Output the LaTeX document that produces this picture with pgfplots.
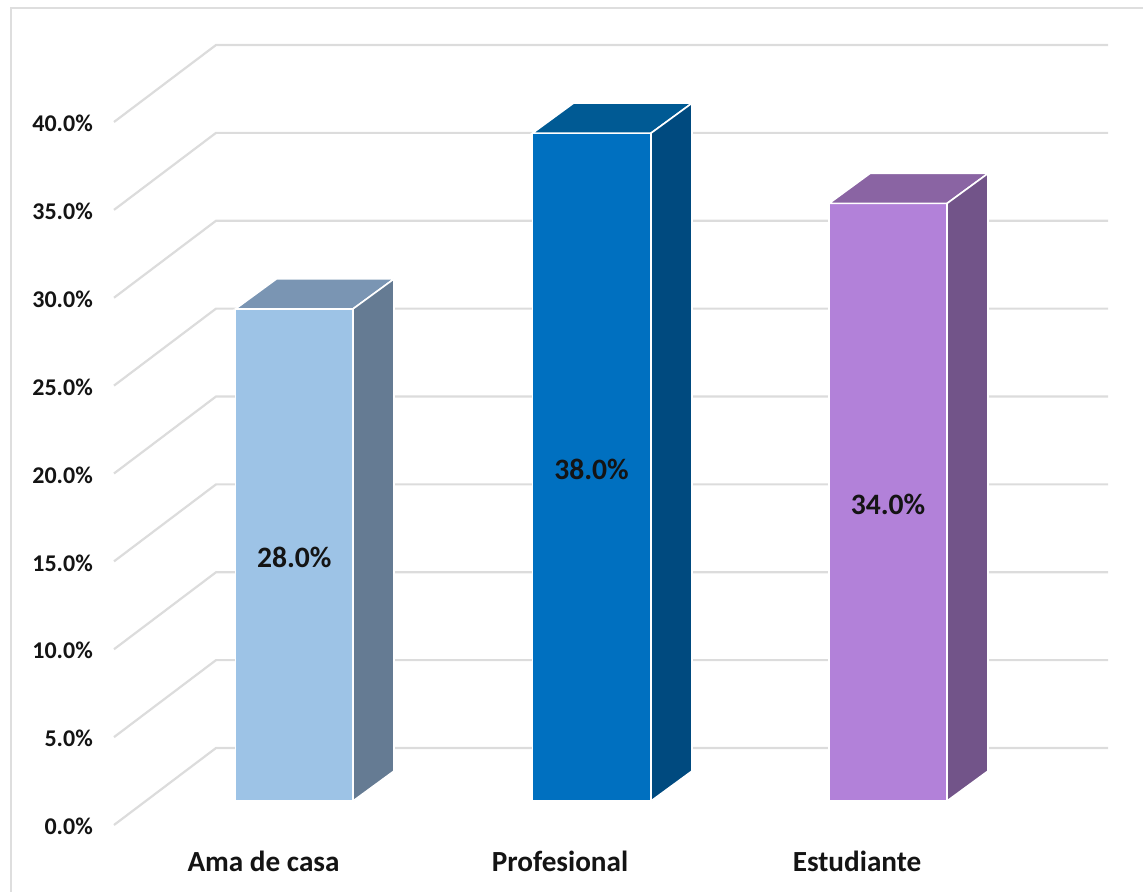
\documentclass[border=0pt]{standalone}
\usepackage{fontspec}
\setmainfont{Carlito}
\usepackage{pgfplots}
\usepackage{pgfplotstable}
\pgfplotsset{compat=1.18}

\definecolor{gridgray}{HTML}{DCDCDC}
\definecolor{framegray}{HTML}{DEDEDE}
\definecolor{skyfront}{HTML}{9DC3E6}
\definecolor{skytop}{HTML}{7A95B3}
\definecolor{skyside}{HTML}{657B93}
\definecolor{bluefront}{HTML}{0070C0}
\definecolor{bluetop}{HTML}{005A94}
\definecolor{blueside}{HTML}{004A7F}
\definecolor{violetfront}{HTML}{B281D9}
\definecolor{violettop}{HTML}{8A64A3}
\definecolor{violetside}{HTML}{725489}

% x in layout units, y in percent; label height is half the bar on the bar plane
\pgfplotstableread{
x      half    v
294.25 15.25   28
591.50 20.25   38
888.00 18.25   34
}\barlabels

\tikzset{barface/.style={draw=white,line width=1.6pt,line join=miter}}

\begin{document}
\begin{tikzpicture}
\begin{axis}[
  at={(114pt,67pt)}, anchor=south west,
  scale only axis, width=994pt, height=703pt,
  xmin=114, xmax=1108, ymin=0, ymax=40,
  clip=false,
  axis x line*=bottom, axis y line*=left,
  axis line style={draw=none},
  major tick length=0pt,
  ytick={0,5,...,40},
  yticklabel={\pgfmathprintnumber[fixed,fixed zerofill,precision=1,assume math mode=true]{\tick}\%},
  yticklabel style={font=\bfseries\fontsize{24}{25}\selectfont,text=black!92,anchor=east,xshift=-19pt,yshift=-1.5pt,inner sep=2pt},
  xtick={263.5,560,857},
  xticklabels={Ama de casa,Profesional,Estudiante},
  xticklabel style={font=\bfseries\fontsize{29.2}{30}\selectfont,text=black!92,anchor=center,yshift=-36pt},
]
% chart frame
\draw[framegray,line width=2pt] (axis cs:11,-3.81) -- (axis cs:11,46.49) -- (axis cs:1143,46.49);

% floor-to-wall guide lines
\pgfplotsinvokeforeach{0,5,...,40}{
  \addplot[gridgray,line width=2.2pt,forget plot] coordinates {(114,#1) (216,#1+4.381) (1108,#1+4.381)};
}

% bars stand on the plane raised above the front edge of the floor
\begin{scope}[yshift=12pt]
\addplot[ybar,bar width=117.5,fill=skyfront,barface,forget plot] coordinates {(294.25,28)};
\addplot[barface,fill=skytop,forget plot] coordinates {(235.5,28) (353,28) (394,29.707) (276.5,29.707)} -- cycle;
\addplot[barface,fill=skyside,forget plot] coordinates {(353,0) (394,1.707) (394,29.707) (353,28)} -- cycle;

\addplot[ybar,bar width=118.5,fill=bluefront,barface,forget plot] coordinates {(591.75,38)};
\addplot[barface,fill=bluetop,forget plot] coordinates {(532.5,38) (651,38) (692,39.707) (573.5,39.707)} -- cycle;
\addplot[barface,fill=blueside,forget plot] coordinates {(651,0) (692,1.707) (692,39.707) (651,38)} -- cycle;

\addplot[ybar,bar width=118,fill=violetfront,barface,forget plot] coordinates {(888,34)};
\addplot[barface,fill=violettop,forget plot] coordinates {(829,34) (947,34) (988,35.707) (870,35.707)} -- cycle;
\addplot[barface,fill=violetside,forget plot] coordinates {(947,0) (988,1.707) (988,35.707) (947,34)} -- cycle;
\end{scope}

% value labels at mid-height of each bar
\addplot[draw=none,mark=none,forget plot,
  point meta=explicit,
  nodes near coords={\pgfmathprintnumber[fixed,fixed zerofill,precision=1,assume math mode=true]{\pgfplotspointmeta}\%},
  every node near coord/.append style={anchor=center,font=\bfseries\fontsize{29.6}{30}\selectfont,text=black!92},
] table[x=x,y=half,meta=v] {\barlabels};
\end{axis}
\pgfresetboundingbox
\path[use as bounding box] (0,0) rectangle (1143pt,892pt);
\end{tikzpicture}
\end{document}
